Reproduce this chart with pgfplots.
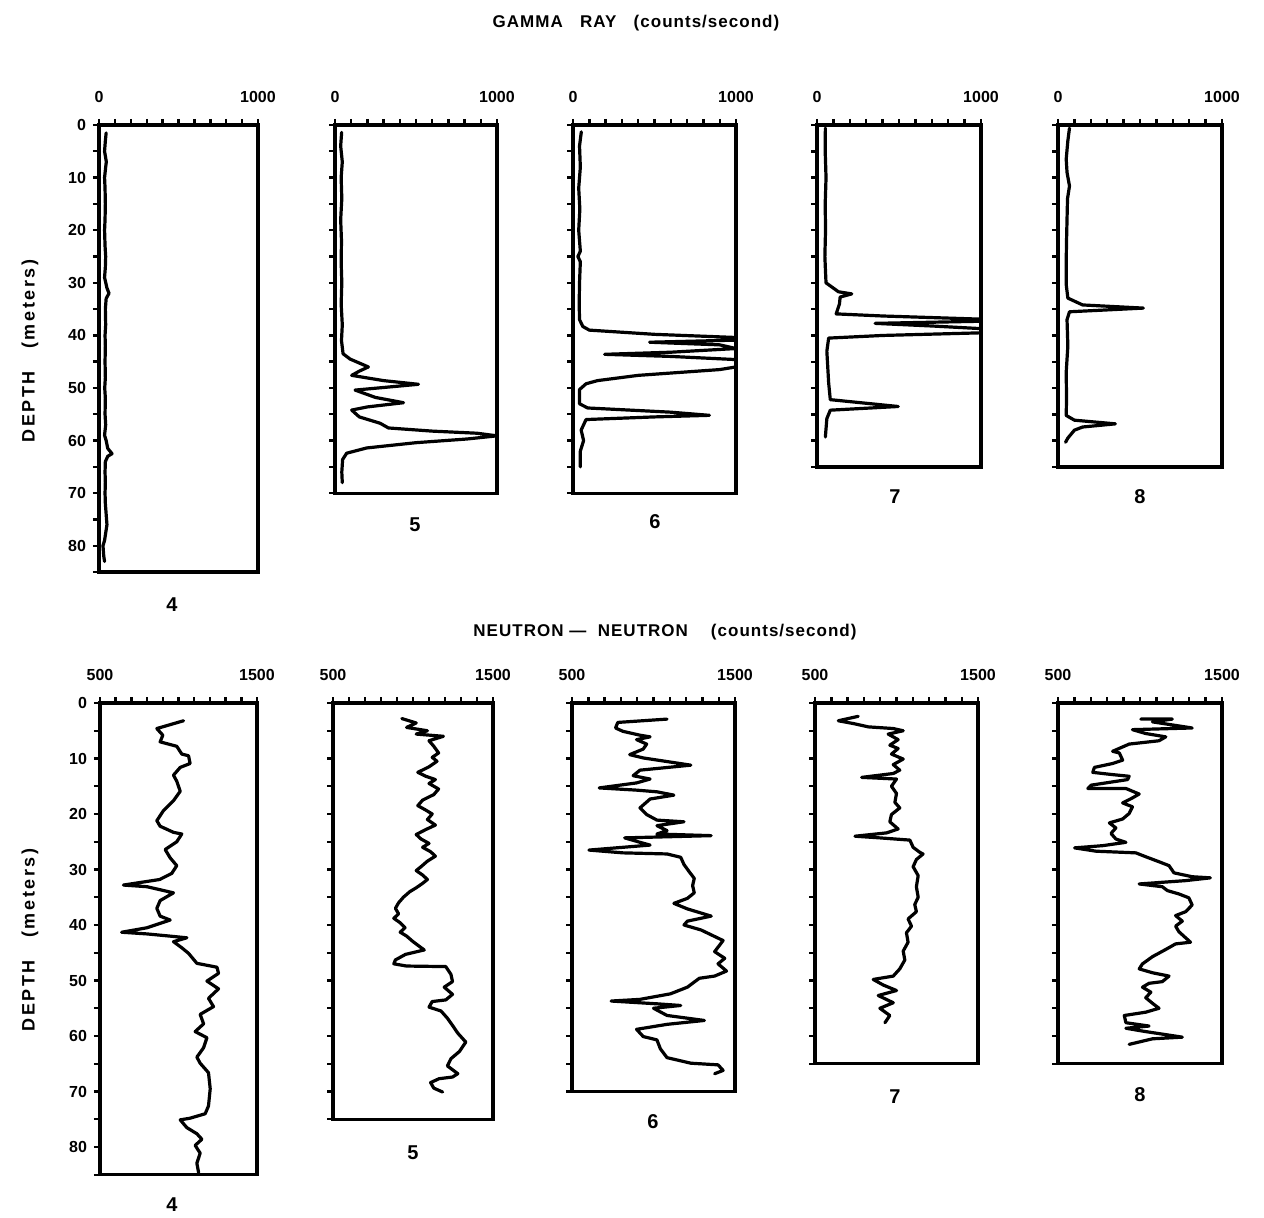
\documentclass[border=0pt]{standalone}
\usepackage{fontspec}
\setmainfont{Liberation Sans}
\usepackage{pgfplots}
\pgfplotsset{compat=1.18}

% one well-log column: depth down, counts across the top
\pgfplotsset{
  wlog/.style={
    scale only axis, anchor=north west,
    y dir=reverse, ymin=0,
    axis line style={line width=1.6pt},
    xtick pos=right, xticklabel pos=right,
    ytick pos=left,
    tick align=outside,
    major tick length=3pt, minor tick length=3pt,
    tick style={black, line width=1.2pt},
    yticklabels={},
    tick label style={font=\bfseries\fontsize{8}{9}\selectfont},
    xticklabel style={yshift=4.5pt},
    /pgf/number format/assume math mode=true,
  },
  gamma/.style={wlog, xmin=0, xmax=1000, xtick={0,1000}, xticklabels={0,1000},
    minor xtick={100,200,...,900}},
  neutron/.style={wlog, xmin=500, xmax=1500, xtick={500,1500}, xticklabels={500,1500},
    minor xtick={600,700,...,1400}},
  curve/.style={black, line width=1.6pt, line join=round, line cap=round, mark=none},
}

\begin{document}
\begin{tikzpicture}
\useasboundingbox (0,0) rectangle (632pt,608.5pt);
\tikzset{lbl/.style={font=\bfseries\fontsize{8.5}{10}\selectfont\addfontfeatures{LetterSpace=6}},
         num/.style={font=\bfseries\fontsize{10}{12}\selectfont}}

% ---------------- GAMMA RAY ----------------
\node[lbl] at (318pt,597pt) {GAMMA\ \ \ RAY\ \ \ (counts/second)};
\node[lbl, rotate=90, font=\bfseries\fontsize{9}{10}\selectfont\addfontfeatures{LetterSpace=14}]
  at (15pt,433pt) {DEPTH\ \ \ (meters)};

\begin{axis}[gamma, at={(49.5pt,546pt)}, width=79.5pt, height=223.5pt, ymax=85,
  ytick={0,10,...,80}, minor ytick={5,15,...,85},
  yticklabels={0,10,20,30,40,50,60,70,80}]
\addplot[curve] coordinates {
  (45,1.5)(40,3)(35,5)(46,7)(42,8)(35,10)(38,12)(40,15)(38,18)(35,20)(38,23)
  (42,25)(40,27)(35,29)(50,31)(63,32)(45,33)(40,35)(42,38)(38,40)(40,42)(38,45)
  (40,48)(36,50)(40,52)(38,55)(42,57)(35,59)(45,60)(55,61.5)(82,62.5)(55,63)
  (40,64)(38,66)(40,68)(38,70)(40,72)(45,74)(50,76)(45,77)(35,79)(25,80)(30,82)(35,83)};
\end{axis}

\begin{axis}[gamma, at={(167.5pt,546pt)}, width=81pt, height=184.1pt, ymax=70,
  ytick={0,10,...,70}, minor ytick={5,15,...,65}]
\addplot[curve] coordinates {
  (41,1.4)(35,4)(45,7)(38,10)(42,14)(35,18)(40,22)(38,26)(42,30)(38,34)(45,38)
  (40,41)(50,43.5)(93,44.5)(206,46)(150,46.8)(103,47.6)(300,48.6)(515,49.3)
  (124,50.4)(250,51.8)(423,52.8)(200,53.6)(103,54.2)(150,55.5)(278,56.7)(330,57.6)
  (600,58.2)(876,58.6)(1000,59.1)(814,59.7)(500,60.4)(196,61.4)(72,62.4)(47,63.6)
  (42,66)(45,68)};
\end{axis}

\begin{axis}[gamma, at={(286.5pt,546pt)}, width=81.5pt, height=184.1pt, ymax=70,
  ytick={0,10,...,70}, minor ytick={5,15,...,65}]
\addplot[curve] coordinates {
  (51,1.3)(40,4)(45,8)(35,12)(42,16)(35,20)(45,24)(30,25)(45,26)(40,30)(38,34)
  (40,37)(60,38.3)(100,39)(500,39.8)(1000,40.4)(1000,40.9)(470,41.3)(900,41.8)
  (1000,42.5)(600,43.2)(194,43.6)(600,44.0)(1000,44.6)(1000,46.0)(900,46.5)
  (400,47.6)(150,48.6)(80,49.2)(40,50.3)(40,53)(90,53.8)(600,54.6)(837,55.2)
  (500,55.5)(80,56)(50,58)(65,60)(45,62)(45,65)};
\end{axis}

\begin{axis}[gamma, at={(408.5pt,546pt)}, width=82pt, height=171pt, ymax=65,
  ytick={0,10,...,60}, minor ytick={5,15,...,65}]
\addplot[curve] coordinates {
  (51,0.6)(50,5)(55,10)(50,15)(52,20)(48,25)(52,28)(55,30)(131,31.7)(212,32.1)
  (141,32.7)(137,34)(117,35.9)(400,36.3)(1000,36.9)(1000,37.3)(354,37.7)(700,38.2)
  (1000,38.7)(1000,39.5)(400,40)(71,40.5)(60,43)(71,49)(81,52.2)(495,53.5)
  (81,54.2)(60,55.8)(51,59.3)};
\end{axis}

\begin{axis}[gamma, at={(529pt,546pt)}, width=82pt, height=171pt, ymax=65,
  ytick={0,10,...,60}, minor ytick={5,15,...,65}]
\addplot[curve] coordinates {
  (70,0.6)(60,3)(50,6.5)(55,9)(70,11.6)(58,14)(55,18)(52,22)(50,26)(50,30.3)
  (60,32.9)(150,34.2)(520,34.8)(70,35.5)(55,37)(60,42)(50,47)(52,52)(50,55.2)
  (100,56.1)(350,56.8)(150,57.4)(100,58)(60,59.5)(46,60.3)};
\end{axis}

\node[num] at (86pt,306pt) {4};
\node[num] at (207.5pt,346pt) {5};
\node[num] at (327.5pt,347.5pt) {6};
\node[num] at (447.5pt,360pt) {7};
\node[num] at (570pt,360pt) {8};

% ---------------- NEUTRON - NEUTRON ----------------
\node[lbl] at (332.5pt,292.5pt) {NEUTRON\ — \ NEUTRON\ \ \ \ (counts/second)};
\node[lbl, rotate=90, font=\bfseries\fontsize{9}{10}\selectfont\addfontfeatures{LetterSpace=14}]
  at (15pt,138.5pt) {DEPTH\ \ \ (meters)};

\begin{axis}[neutron, at={(50pt,257pt)}, width=78.5pt, height=235.9pt, ymax=85,
  ytick={0,10,...,80}, minor ytick={5,15,...,85},
  yticklabels={0,10,20,30,40,50,60,70,80}]
\addplot[curve] coordinates {
  (1032,3.2)(862,4.6)(900,5.8)(883,7)(989,7.8)(1021,9.2)(1064,9.5)(1074,10.9)
  (1011,11.6)(968,13)(989,14.1)(1011,15.9)(968,17.6)(904,19.4)(862,21.2)(883,22.2)
  (968,23.3)(1021,23.6)(989,25)(915,26.4)(947,27.9)(989,29.3)(957,30.7)(880,31.8)
  (649,32.8)(800,33.1)(968,34.2)(883,35.6)(862,37)(883,38.4)(947,39.1)(798,40.5)
  (638,41.3)(798,41.6)(947,42)(1053,42.3)(968,43)(1021,44.1)(1064,45.1)(1117,46.9)
  (1245,47.6)(1255,48.7)(1181,50.1)(1255,51.5)(1191,53.2)(1223,54.7)(1138,56.1)
  (1160,57.8)(1106,59.2)(1181,60.3)(1160,62.1)(1117,63.8)(1138,64.9)(1191,66.6)
  (1202,69.5)(1191,72.6)(1170,74)(1074,74.8)(1011,75.1)(1053,76.5)(1117,77.6)
  (1149,78.6)(1106,79.7)(1138,81.1)(1117,82.9)(1128,84.6)};
\end{axis}

\begin{axis}[neutron, at={(166.5pt,257pt)}, width=80pt, height=208.1pt, ymax=75,
  ytick={0,10,...,70}, minor ytick={5,15,...,75}]
\addplot[curve] coordinates {
  (930,2.8)(1020,3.6)(960,4.4)(1090,5.0)(1020,5.6)(1190,6.0)(1100,6.8)(1130,7.8)
  (1160,9.0)(1120,9.8)(1150,10.5)(1100,11.5)(1030,12.5)(1080,13.2)(1140,13.8)
  (1100,14.5)(1160,15.5)(1130,16.5)(1060,17.5)(1030,18.5)(1080,19.3)(1120,20.0)
  (1090,21.0)(1140,22.0)(1080,22.8)(1020,23.7)(1050,24.5)(1100,25.3)(1060,26.0)
  (1110,26.8)(1140,27.6)(1090,28.5)(1050,29.5)(1020,30.2)(1060,31.0)(1090,31.8)
  (1060,32.5)(1020,33.3)(980,34.0)(940,35.0)(910,36.0)(890,37.0)(910,38.0)
  (880,38.8)(920,39.6)(950,40.5)(920,41.3)(960,42.0)(1000,43.0)(1070,44.5)
  (953,45.3)(890,46.3)(880,47.0)(960,47.4)(1205,47.5)(1237,48.9)(1247,50.2)
  (1195,51.2)(1247,52.5)(1205,53.5)(1120,53.8)(1100,54.8)(1175,55.5)(1215,56.8)
  (1247,58.1)(1280,59.5)(1330,61.1)(1290,62.8)(1237,64.1)(1215,65.4)(1280,66.8)
  (1247,67.4)(1163,67.7)(1110,68.4)(1130,69.4)(1185,70.1)};
\end{axis}

\begin{axis}[neutron, at={(286pt,257pt)}, width=81.5pt, height=194.25pt, ymax=70,
  ytick={0,10,...,70}, minor ytick={5,15,...,65}]
\addplot[curve] coordinates {
  (1083,2.9)(781,3.5)(767,4.5)(812,5.1)(917,5.8)(979,6.1)(896,6.6)(958,7.4)
  (937,8.3)(854,9.3)(937,9.9)(1229,11.2)(917,12.1)(875,13.1)(979,13.7)(896,14.4)
  (667,15.3)(896,15.7)(1021,16)(1125,16.6)(979,17.3)(917,18.9)(958,20.1)(1021,21.1)
  (1187,21.4)(1021,22.1)(1083,23)(1021,23.6)(1354,23.9)(823,24.3)(917,25.1)
  (979,25.6)(604,26.5)(812,27.0)(1083,27.2)(1167,27.8)(1187,29.1)(1219,30.4)
  (1250,31.6)(1240,32.9)(1250,34.2)(1208,35.2)(1125,36.1)(1208,37.1)(1354,38.4)
  (1208,39.3)(1187,40)(1292,40.9)(1427,42.8)(1375,44.8)(1437,46)(1396,47)
  (1448,48.3)(1375,49.2)(1281,49.6)(1208,51.2)(1104,52.4)(917,53.4)(740,53.7)
  (1021,54.2)(1167,54.5)(1000,55)(1083,56.3)(1312,57.2)(1083,57.9)(896,58.8)
  (937,60.1)(1021,60.7)(1042,62.3)(1083,63.9)(1229,64.9)(1396,65.2)(1427,66.2)
  (1375,66.8)};
\end{axis}

\begin{axis}[neutron, at={(407.5pt,257pt)}, width=81.5pt, height=180.4pt, ymax=65,
  ytick={0,10,...,60}, minor ytick={5,15,...,65}]
\addplot[curve] coordinates {
  (765,2.4)(643,3.2)(735,3.7)(827,4.3)(980,4.6)(1041,5.0)(949,5.6)(1010,6.6)
  (959,7.6)(1010,8.2)(969,9.2)(1041,10.1)(980,11.1)(1020,12.1)(980,12.7)(786,13.4)
  (1000,13.7)(969,15)(1000,16.3)(990,17.9)(1020,18.9)(969,20.1)(959,21.4)
  (1010,22.7)(939,23.4)(745,24)(898,24.3)(1082,24.7)(1102,26)(1143,26.9)
  (1163,27.2)(1122,28.2)(1102,29.5)(1133,31.1)(1122,33.1)(1133,35)(1112,36.3)
  (1122,37.6)(1071,38.9)(1092,40.2)(1061,41.4)(1071,43.1)(1041,44.7)(1051,46.3)
  (1020,47.9)(980,49.2)(857,49.8)(918,50.8)(1000,51.8)(888,52.7)(980,54)
  (898,55)(959,56.3)(929,57.6)};
\end{axis}

\begin{axis}[neutron, at={(529pt,257pt)}, width=82pt, height=180.4pt, ymax=65,
  ytick={0,10,...,60}, minor ytick={5,15,...,65}]
\addplot[curve] coordinates {
  (1005,2.9)(1197,2.9)(1076,3.4)(1318,4.5)(954,4.8)(1035,5.5)(1157,6.1)(1116,6.8)
  (934,7.4)(833,8.7)(874,9)(894,10.3)(833,10.9)(722,11.6)(712,12.5)(833,12.9)
  (934,13.2)(924,13.8)(702,14.8)(682,15.4)(914,15.4)(995,16.4)(954,17.1)(894,18)
  (954,18.7)(934,19.9)(894,20.9)(813,21.6)(853,22.5)(823,23.5)(853,24.5)(914,25.1)
  (773,25.7)(601,26.1)(732,26.7)(975,27)(1035,27.7)(1116,28.6)(1177,29.3)
  (1207,30.6)(1318,31.3)(1429,31.5)(1278,32)(995,32.6)(1136,33.1)(1167,33.8)
  (1237,34.4)(1298,35.1)(1318,36.4)(1278,37.6)(1217,38.3)(1258,39.3)(1217,40.2)
  (1237,41.2)(1308,43.1)(1217,43.4)(1157,44.4)(1076,45.7)(1015,47)(995,47.9)
  (1076,48.6)(1177,49.2)(1136,50.2)(1055,50.5)(1015,51.2)(1066,52.1)(1035,53.1)
  (1076,54.1)(1116,55)(1035,55.7)(904,56.3)(914,57.6)(1055,58.2)(914,58.6)
  (1035,59.2)(1258,60.2)(1076,60.5)(934,61.5)};
\end{axis}

\node[num] at (86pt,6pt) {4};
\node[num] at (206.5pt,32pt) {5};
\node[num] at (326.5pt,47.5pt) {6};
\node[num] at (447.5pt,60pt) {7};
\node[num] at (570pt,61pt) {8};
\end{tikzpicture}
\end{document}
